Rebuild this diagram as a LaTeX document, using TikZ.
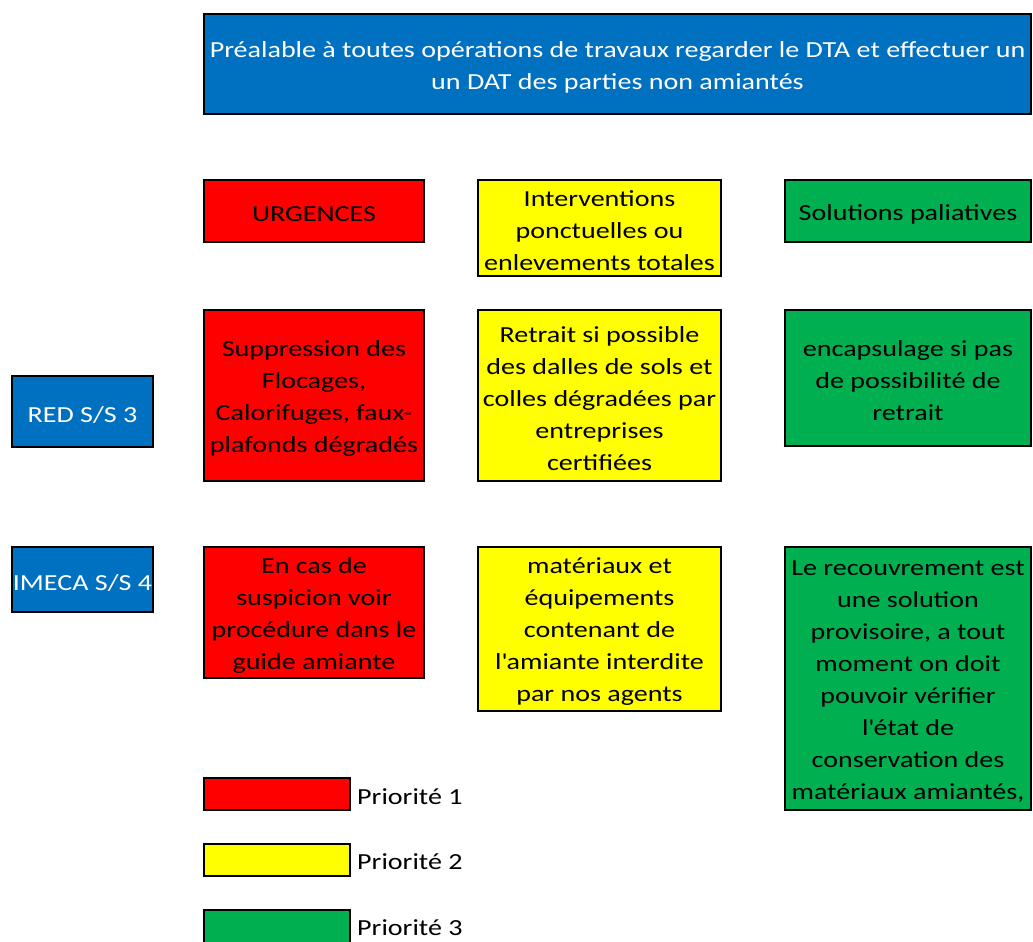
\documentclass[tikz,border=0pt]{standalone}
\usepackage{fontspec}
\setmainfont{Carlito}[FakeStretch=1.22]
\definecolor{xblue}{HTML}{0070C0}
\definecolor{xred}{HTML}{FF0000}
\definecolor{xyellow}{HTML}{FFFF00}
\definecolor{xgreen}{HTML}{00B050}
\tikzset{
  box/.style={draw=black, line width=2.6pt, rectangle, inner sep=0pt},
  boxtext/.style={inner sep=0pt, align=center, font=\fontsize{23}{32}\selectfont, text=black, yshift=-3pt},
  bluebox/.style={box, fill=xblue},
  redbox/.style={box, fill=xred},
  yelbox/.style={box, fill=xyellow},
  grnbox/.style={box, fill=xgreen},
  legtext/.style={anchor=west, inner sep=0pt, font=\fontsize{23}{32}\selectfont, text=black}
}
\newcommand{\bx}[8]{% style, name, x1, y1, x2, y2, textcolor, text
  \node[#1, minimum width={#5-#3}, minimum height={#6-#4}] (#2) at ({(#3+#5)/2},{(#4+#6)/2}) {};
  \node[boxtext, text=#7] (#2-t) at (#2.center) {#8};}
\begin{document}
\begin{tikzpicture}[x=1pt,y=-1pt]
\useasboundingbox (0,0) rectangle (1033,942);
\bx{bluebox}{top}{204}{14}{1031}{114}{white}{Préalable à toutes opérations de travaux regarder le DTA et effectuer un\\un DAT des parties non amiantés}
\bx{redbox}{urg}{204}{180}{424}{242}{black}{URGENCES}
\bx{yelbox}{inter}{478}{180}{721}{276}{black}{Interventions\\ponctuelles ou\\enlevements totales}
\bx{grnbox}{pal}{785}{180}{1031}{242}{black}{Solutions paliatives}
\bx{bluebox}{red}{12}{376}{153}{447}{white}{RED S/S 3}
\bx{redbox}{supp}{204}{310}{424}{481}{black}{Suppression des\\Flocages,\\Calorifuges, faux-\\plafonds dégradés}
\bx{yelbox}{retr}{478}{310}{721}{481}{black}{Retrait si possible\\des dalles de sols et\\colles dégradées par\\entreprises\\certifiées}
\bx{grnbox}{enc}{785}{310}{1031}{446}{black}{encapsulage si pas\\de possibilité de\\retrait}
\bx{bluebox}{imeca}{12}{547}{153}{612}{white}{IMECA S/S 4}
\bx{redbox}{cas}{204}{547}{424}{678}{black}{En cas de\\suspicion voir\\procédure dans le\\guide amiante}
\bx{yelbox}{mat}{478}{547}{721}{711}{black}{matériaux et\\équipements\\contenant de\\l\textquotesingle amiante interdite\\par nos agents}
\bx{grnbox}{rec}{785}{547}{1031}{810}{black}{Le recouvrement est\\une solution\\provisoire, a tout\\moment on doit\\pouvoir vérifier\\l\textquotesingle état de\\conservation des\\matériaux amiantés,}
\node[redbox, minimum width=146, minimum height=32] (l1) at (277,794) {};
\node[yelbox, minimum width=146, minimum height=32] (l2) at (277,860) {};
\node[grnbox, minimum width=146, minimum height=34] (l3) at (277,927) {};
\node[legtext] (t1) at (357,797) {Priorité 1};
\node[legtext] (t2) at (357,862) {Priorité 2};
\node[legtext] (t3) at (357,928) {Priorité 3};
\end{tikzpicture}
\end{document}
